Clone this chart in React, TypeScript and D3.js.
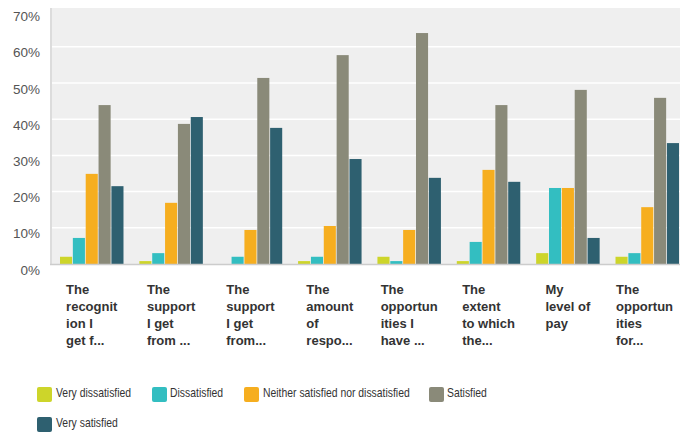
import React from "react";
import * as d3 from "d3";

const categories = [
  ["The", "recognit", "ion I", "get f..."],
  ["The", "support", "I get", "from ..."],
  ["The", "support", "I get", "from..."],
  ["The", "amount", "of", "respo..."],
  ["The", "opportun", "ities I", "have ..."],
  ["The", "extent", "to which", "the..."],
  ["My", "level of", "pay"],
  ["The", "opportun", "ities", "for..."],
];

const seriesNames = [
  "Very dissatisfied",
  "Dissatisfied",
  "Neither satisfied nor dissatisfied",
  "Satisfied",
  "Very satisfied",
];

const veryDissatisfied = [2.0, 0.8, 0, 0.8, 2.0, 0.8, 3.0, 2.0];
const dissatisfied = [7.2, 3.0, 2.0, 2.0, 0.8, 6.1, 21.0, 3.0];
const neither = [24.9, 16.9, 9.4, 10.5, 9.4, 26.0, 21.0, 15.7];
const satisfied = [43.9, 38.7, 51.4, 57.7, 63.8, 43.9, 48.1, 45.9];
const verySatisfied = [21.5, 40.6, 37.6, 29.0, 23.8, 22.7, 7.2, 33.4];

const yTicks = [0, 10, 20, 30, 40, 50, 60, 70];

const colors = ["#CDD52A", "#33BEC1", "#F6AE1F", "#8A8A79", "#2E6070"];

let ctx: CanvasRenderingContext2D | null = null;
function measureBold(s: string): number {
  if (!ctx) {
    const c = document.createElement("canvas");
    ctx = c.getContext("2d");
  }
  if (!ctx) return s.length * 7;
  ctx.font = "bold 13px 'Liberation Sans', Arial, sans-serif";
  return ctx.measureText(s).width;
}

export default function App() {
  const W = 681;
  const H = 434;
  const plotL = 50;
  const plotR = 680;
  const plotT = 8;
  const baseY = 264;
  const series = [veryDissatisfied, dissatisfied, neither, satisfied, verySatisfied];
  const idx = categories.map((_, i) => String(i));
  const x = d3.scaleBand<string>().domain(idx).range([plotL, 689]).paddingInner(0.2).paddingOuter(0.126);
  const xi = d3.scaleBand<string>().domain(seriesNames).range([0, x.bandwidth()]).paddingInner(0.06);
  const y = d3.scaleLinear().domain([0, 70]).range([baseY, baseY - 7 * 36.2]);

  const legendItems = [
    { name: seriesNames[0], sx: 37, tx: 56, row: 0 },
    { name: seriesNames[1], sx: 152, tx: 170, row: 0 },
    { name: seriesNames[2], sx: 244, tx: 263, row: 0 },
    { name: seriesNames[3], sx: 429, tx: 447, row: 0 },
    { name: seriesNames[4], sx: 37, tx: 56, row: 1 },
  ];

  return (
    <svg width={W} height={H} style={{ position: "absolute", left: 0, top: 0 }}>
      <rect x={0} y={0} width={W} height={H} fill="#ffffff" />
      <rect x={plotL} y={plotT} width={plotR - plotL} height={baseY - plotT} fill="#EFEFEF" />
      {yTicks.filter((t) => t > 0 && t < 70).map((t) => (
        <line key={t} x1={plotL} x2={plotR} y1={y(t)} y2={y(t)} stroke="#ffffff" strokeWidth={1.5} />
      ))}
      <line x1={plotL + 1} x2={plotL + 1} y1={plotT} y2={baseY} stroke="#DCDCDC" strokeWidth={2} />
      {yTicks.map((t) => (
        <text
          key={t}
          x={40}
          y={y(t) + 6}
          textAnchor="end"
          dominantBaseline="central"
          fontFamily="Liberation Sans, Arial, sans-serif"
          fontSize={13.5}
          fill="#555555"
        >
          {t}%
        </text>
      ))}
      {series.map((vals, si) =>
        vals.map((v, ci) => (
          <rect
            key={`${si}-${ci}`}
            x={(x(String(ci)) as number) + (xi(seriesNames[si]) as number)}
            y={y(v)}
            width={xi.bandwidth()}
            height={baseY - y(v)}
            fill={colors[si]}
          />
        ))
      )}
      <line x1={plotL} x2={plotR} y1={baseY + 0.5} y2={baseY + 0.5} stroke="#CCCCCC" strokeWidth={1.5} />
      {categories.map((lines, ci) => {
        const center = (x(String(ci)) as number) + x.bandwidth() / 2;
        const bw = Math.max(...lines.map((l) => measureBold(l)));
        const lx = Math.min(center - bw / 2, 616);
        return (
          <text
            key={ci}
            x={lx}
            y={289}
            fontFamily="Liberation Sans, Arial, sans-serif"
            fontSize={13}
            fontWeight="bold"
            fill="#333333"
          >
            {lines.map((l, li) => (
              <tspan key={li} x={lx} y={289 + li * 17.3} dominantBaseline="central">
                {l}
              </tspan>
            ))}
          </text>
        );
      })}
      {legendItems.map((it, i) => {
        const cy = it.row === 0 ? 394.5 : 424.5;
        return (
          <g key={i}>
            <rect x={it.sx} y={cy - 7.5} width={15} height={15} rx={2} fill={colors[i]} />
            <text
              transform={`translate(${it.tx},${cy - 2}) scale(0.8,1)`}
              x={0}
              y={0}
              dominantBaseline="central"
              fontFamily="Liberation Sans, Arial, sans-serif"
              fontSize={13}
              fill="#333333"
            >
              {it.name}
            </text>
          </g>
        );
      })}
    </svg>
  );
}
